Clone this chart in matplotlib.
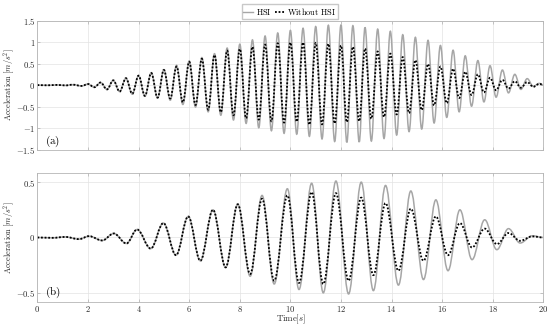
import matplotlib.pyplot as plt
from matplotlib.path import Path
from matplotlib.patches import PathPatch
from matplotlib.lines import Line2D
from matplotlib.ticker import FuncFormatter

plt.rcParams['mathtext.fontset'] = 'cm'

# (a) extrema of the response: times [s] and accelerations [m/s^2]
t_a = [0, 0.4, 0.8, 1.1, 1.4, 1.75, 2.0, 2.25, 2.5, 2.75, 3.0, 3.25, 3.5, 3.75,
       4.0, 4.25, 4.5, 4.75, 5.0, 5.25, 5.5, 5.75, 6.0, 6.25, 6.5, 6.75, 7.0,
       7.25, 7.5, 7.75, 8.0, 8.25, 8.5, 8.75, 9.0, 9.25, 9.5, 9.75, 10.0, 10.25,
       10.5, 10.75, 11.0, 11.25, 11.5, 11.75, 12.0, 12.23, 12.47, 12.72, 12.95,
       13.2, 13.45, 13.7, 13.95, 14.2, 14.44, 14.69, 14.94, 15.19, 15.44, 15.68,
       15.93, 16.18, 16.43, 16.67, 16.91, 17.16, 17.41, 17.65, 17.89, 18.13,
       18.38, 18.62, 18.87, 19.11, 19.36, 19.6, 19.84, 20.0]
hsi_a = [0, -0.005, 0.005, -0.008, 0.01, -0.02, 0.025, -0.05, 0.06, -0.10, 0.11,
         -0.15, 0.16, -0.21, 0.22, -0.26, 0.29, -0.30, 0.36, -0.35, 0.46, -0.45,
         0.56, -0.51, 0.64, -0.62, 0.73, -0.70, 0.86, -0.81, 0.95, -0.89, 1.05,
         -0.99, 1.14, -1.06, 1.21, -1.12, 1.27, -1.14, 1.32, -1.19, 1.36, -1.25,
         1.39, -1.31, 1.40, -1.33, 1.38, -1.32, 1.34, -1.30, 1.30, -1.24, 1.25,
         -1.16, 1.17, -1.08, 1.11, -1.02, 1.04, -0.88, 0.92, -0.75, 0.81, -0.62,
         0.68, -0.49, 0.57, -0.39, 0.45, -0.28, 0.35, -0.18, 0.25, -0.10, 0.15,
         -0.03, 0.04, 0]
nohsi_a = [0, -0.005, 0.005, -0.008, 0.01, -0.02, 0.025, -0.05, 0.06, -0.10, 0.11,
           -0.15, 0.16, -0.20, 0.22, -0.25, 0.28, -0.29, 0.35, -0.31, 0.43, -0.40,
           0.54, -0.46, 0.61, -0.57, 0.70, -0.63, 0.80, -0.70, 0.84, -0.77, 0.89,
           -0.80, 0.94, -0.84, 0.97, -0.87, 0.99, -0.85, 0.99, -0.92, 0.98, -0.91,
           0.96, -0.89, 0.92, -0.86, 0.89, -0.84, 0.85, -0.78, 0.78, -0.74, 0.73,
           -0.68, 0.65, -0.65, 0.58, -0.58, 0.49, -0.47, 0.43, -0.42, 0.38, -0.30,
           0.31, -0.23, 0.25, -0.17, 0.17, -0.12, 0.12, -0.08, 0.09, -0.06, 0.07,
           -0.04, 0.03, 0]

# (b) extrema
t_b = [0, 0.6, 1.1, 1.65, 2.04, 2.56, 3.02, 3.52, 3.94, 4.48, 4.98, 5.48, 5.96,
       6.44, 6.94, 7.44, 7.92, 8.41, 8.88, 9.36, 9.88, 10.34, 10.84, 11.3, 11.8,
       12.3, 12.8, 13.28, 13.76, 14.27, 14.76, 15.26, 15.75, 16.23, 16.7, 17.18,
       17.68, 18.16, 18.62, 19.08, 19.56, 20.0]
hsi_b = [0, -0.003, 0.005, -0.015, 0.012, -0.027, 0.036, -0.054, 0.072, -0.10,
         0.13, -0.16, 0.19, -0.21, 0.25, -0.27, 0.30, -0.35, 0.38, -0.42, 0.44,
         -0.47, 0.49, -0.50, 0.51, -0.51, 0.50, -0.48, 0.47, -0.43, 0.42, -0.38,
         0.34, -0.30, 0.25, -0.20, 0.16, -0.11, 0.08, -0.05, 0.015, 0]
nohsi_b = [0, -0.003, 0.005, -0.015, 0.012, -0.027, 0.036, -0.054, 0.072, -0.10,
           0.13, -0.16, 0.19, -0.21, 0.25, -0.27, 0.30, -0.33, 0.35, -0.39, 0.38,
           -0.41, 0.41, -0.42, 0.40, -0.39, 0.36, -0.34, 0.31, -0.30, 0.26, -0.21,
           0.19, -0.16, 0.13, -0.09, 0.08, -0.06, 0.04, -0.03, 0.01, 0]

GREY = '#a6a6a6'


def wave_path(t, v):
    # smooth half-waves between successive extrema (flat tangent at each extremum)
    verts = [(t[0], v[0])]
    codes = [Path.MOVETO]
    for i in range(1, len(t)):
        d = (t[i] - t[i - 1]) * 0.3634
        verts += [(t[i - 1] + d, v[i - 1]), (t[i] - d, v[i]), (t[i], v[i])]
        codes += [Path.CURVE4] * 3
    return Path(verts, codes)


def style(ax, ylim, yticks):
    ax.set_xlim(0, 20)
    ax.set_ylim(*ylim)
    ax.set_xticks(range(0, 21, 2))
    ax.set_yticks(yticks)
    ax.yaxis.set_major_formatter(FuncFormatter(lambda v, p: '$%g$' % v))
    ax.xaxis.set_major_formatter(FuncFormatter(lambda v, p: '$%g$' % v))
    ax.grid(True, color='#e3e3e3', lw=0.5)
    ax.set_axisbelow(True)
    ax.tick_params(direction='in', length=2.5, width=0.5, labelsize=6.2,
                   colors='#b0b0b0', labelcolor='#262626', top=True, right=True, pad=2)
    ax.tick_params(axis='y', pad=1.5)
    for s in ax.spines.values():
        s.set_color('#b5b5b5')
        s.set_linewidth(0.6)
    ax.set_ylabel(r'$\mathrm{Acceleration}\ [m/s^2]$', fontsize=6, color='#262626',
                  va='center')
    ax.yaxis.set_label_coords(-0.055, 0.5)


fig = plt.figure(figsize=(5.5, 3.26), dpi=100)
ax1 = fig.add_axes([0.068, 0.5408, 0.92, 0.3963])
ax2 = fig.add_axes([0.068, 0.0745, 0.92, 0.394])

for ax, t, a, b in [(ax1, t_a, hsi_a, nohsi_a), (ax2, t_b, hsi_b, nohsi_b)]:
    ax.add_patch(PathPatch(wave_path(t, a), fill=False, edgecolor=GREY, lw=1.1))
    ax.add_patch(PathPatch(wave_path(t, b), fill=False, edgecolor='black', lw=1.3,
                           ls=(0, (1, 1))))

style(ax1, (-1.5, 1.5), [-1.5, -1, -0.5, 0, 0.5, 1, 1.5])
style(ax2, (-0.58, 0.58), [-0.5, 0, 0.5])
ax1.tick_params(labelbottom=False)
ax2.tick_params(axis='x', pad=1.5)
ax2.set_xlabel(r'$\mathrm{Time}[s]$', fontsize=6.3, color='#262626', va='center')
ax2.xaxis.set_label_coords(0.5, -0.138)

ax1.text(0.3, -1.3, r'$\mathrm{(a)}$', fontsize=8, va='center')
ax2.text(0.3, -0.5, r'$\mathrm{(b)}$', fontsize=8, va='center')

handles = [Line2D([], [], color=GREY, lw=1.0),
           Line2D([], [], color='black', lw=1.3, ls=(0, (1, 1)))]
fig.legend(handles, [r'$\mathrm{HSI}$', r'$\mathrm{Without\ HSI}$'],
           loc='upper center', bbox_to_anchor=(0.527, 1.0), ncol=2, fontsize=6,
           handlelength=1.2, handletextpad=0.3, columnspacing=0.4, borderpad=0.2,
           fancybox=False, edgecolor='#c8c8c8', framealpha=1)

plt.savefig('out.png', dpi=100)
